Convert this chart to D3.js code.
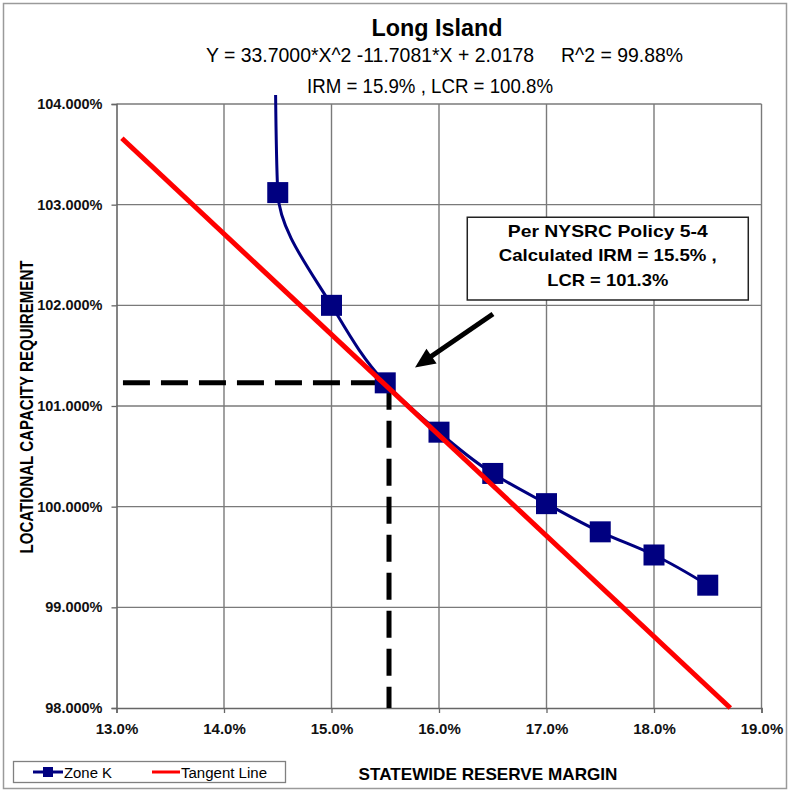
<!DOCTYPE html>
<html><head><meta charset="utf-8">
<script src="https://cdn.jsdelivr.net/npm/d3@7"></script>
<style>body{margin:0;background:#fff;} svg{display:block;} text{font-family:"Liberation Sans",Arial,Helvetica,sans-serif;white-space:pre;}</style>
</head><body><svg id="chart" width="790" height="791"></svg>
<script>
// ---------- data ----------
const titleText = "Long Island";
const equationText = "Y = 33.7000*X^2 -11.7081*X + 2.0178     R^2 = 99.88%";
const resultText = "IRM = 15.9% , LCR = 100.8%";
const xTicks = [13, 14, 15, 16, 17, 18, 19];
const yTicks = [98, 99, 100, 101, 102, 103, 104];
const zoneKIRM = [14.5, 15.0, 15.5, 16.0, 16.5, 17.0, 17.5, 18.0, 18.5];
const zoneKLCR = [103.12, 102.0, 101.23, 100.74, 100.33, 100.03, 99.75, 99.52, 99.22];
const zoneKLeadIRM = [14.48];
const zoneKLeadLCR = [104.09];
const tangentIRM = [13.05, 18.71];
const tangentLCR = [103.66, 98.0];
const calcIRM = [13.06, 15.535];
const calcLCR = [101.23, 98.0];
const noteLines = ["Per NYSRC Policy 5-4", "Calculated IRM = 15.5% ,", "LCR = 101.3%"];
const noteBoxIRM = [16.263, 18.877];
const noteBoxLCR = [102.875, 102.053];
const arrowIRM = [16.502, 15.777];
const arrowLCR = [101.914, 101.383];
const seriesNames = ["Zone K", "Tangent Line"];
const xAxisTitle = "STATEWIDE RESERVE MARGIN";
const yAxisTitle = "LOCATIONAL CAPACITY REQUIREMENT";

// ---------- setup ----------
const svg = d3.select("#chart");
const x = d3.scaleLinear().domain([13, 19]).range([116.5, 761.5]);
const y = d3.scaleLinear().domain([98, 104]).range([708, 104]);
const navy = "#000080", red = "#ff0000";

// outer border
svg.append("rect").attr("x", 3.5).attr("y", 3.5).attr("width", 783).attr("height", 785)
  .attr("fill", "#fff").attr("stroke", "#9a9a9a").attr("stroke-width", 1.5);

function txt(g, px, py, s, size, weight, anchor, len) {
  const t = g.append("text").attr("x", px).attr("y", py).text(s)
    .attr("font-size", size).attr("font-weight", weight).attr("text-anchor", anchor).attr("fill", "#000");
  if (len) t.attr("textLength", len).attr("lengthAdjust", "spacingAndGlyphs");
  return t;
}

// titles
txt(svg, 437, 36, titleText, 24, "bold", "middle", 131);
txt(svg, 444.5, 62, equationText, 20, "normal", "middle", 477);
txt(svg, 430, 93, resultText, 20, "normal", "middle", 246);

// gridlines
const grid = svg.append("g");
grid.selectAll(".gx").data(xTicks.slice(1)).join("line")
  .attr("x1", d => x(d)).attr("x2", d => x(d)).attr("y1", y(104)).attr("y2", y(98))
  .attr("stroke", "#7a7a7a").attr("stroke-width", 1.4);
grid.selectAll(".gy").data(yTicks.slice(1)).join("line")
  .attr("x1", x(13)).attr("x2", x(19)).attr("y1", d => y(d)).attr("y2", d => y(d))
  .attr("stroke", "#7a7a7a").attr("stroke-width", 1.4);

// axes
const yAxis = svg.append("g").attr("transform", `translate(${x(13)},0)`)
  .call(d3.axisLeft(y).tickValues(yTicks).tickSize(5).tickPadding(9).tickFormat(d => d.toFixed(3) + "%"));
const xAxis = svg.append("g").attr("transform", `translate(0,${y(98)})`)
  .call(d3.axisBottom(x).tickValues(xTicks).tickSize(5).tickPadding(10).tickFormat(d => d.toFixed(1) + "%"));
[yAxis, xAxis].forEach(a => {
  a.select(".domain").attr("stroke", "#666").attr("stroke-width", 1.6);
  a.selectAll(".tick line").attr("stroke", "#666").attr("stroke-width", 1.3);
  a.selectAll("text").attr("font-weight", "bold").attr("fill", "#111")
    .attr("font-family", "'Liberation Sans',Arial,sans-serif");
});
yAxis.selectAll("text").attr("font-size", 14.5);
xAxis.selectAll("text").attr("font-size", 15);

// axis titles
txt(svg, 488, 780, xAxisTitle, 17, "bold", "middle", 259);
txt(svg, 0, 0, yAxisTitle, 17.5, "bold", "middle", 293).attr("transform", "translate(33,407) rotate(-90)");

// dashed guide lines
const guide = d3.line().x(d => x(d[0])).y(d => y(d[1]));
svg.append("path").attr("d", guide([[calcIRM[0], calcLCR[0]], [calcIRM[1], calcLCR[0]]]))
  .attr("stroke", "#000").attr("stroke-width", 5).attr("stroke-dasharray", "27,11").attr("fill", "none");
svg.append("path").attr("d", guide([[calcIRM[1], calcLCR[0]], [calcIRM[1], calcLCR[1]]]))
  .attr("stroke", "#000").attr("stroke-width", 5).attr("stroke-dasharray", "27,11").attr("fill", "none");

// Zone K series
const zoneK = zoneKIRM.map((v, i) => [v, zoneKLCR[i]]);
const zoneKPath = zoneKLeadIRM.map((v, i) => [v, zoneKLeadLCR[i]]).concat(zoneK);
const smooth = d3.line().x(d => x(d[0])).y(d => y(d[1])).curve(d3.curveMonotoneY);
svg.append("path").attr("d", smooth(zoneKPath)).attr("stroke", navy).attr("stroke-width", 3).attr("fill", "none");
const ms = 21;
svg.selectAll(".mk").data(zoneK).join("rect")
  .attr("x", d => x(d[0]) - ms / 2).attr("y", d => y(d[1]) - ms / 2).attr("width", ms).attr("height", ms)
  .attr("fill", navy);

// Tangent line
const tang = tangentIRM.map((v, i) => [v, tangentLCR[i]]);
svg.append("path").attr("d", guide(tang)).attr("stroke", red).attr("stroke-width", 5).attr("fill", "none");

// arrow
const ax0 = x(arrowIRM[0]), ay0 = y(arrowLCR[0]), ax1 = x(arrowIRM[1]), ay1 = y(arrowLCR[1]);
const ang = Math.atan2(ay1 - ay0, ax1 - ax0);
const hl = 20, hw = 9;
const bx = ax1 - hl * Math.cos(ang), by = ay1 - hl * Math.sin(ang);
svg.append("line").attr("x1", ax0).attr("y1", ay0).attr("x2", bx + 2 * Math.cos(ang)).attr("y2", by + 2 * Math.sin(ang))
  .attr("stroke", "#000").attr("stroke-width", 5);
svg.append("path").attr("d", `M${ax1},${ay1} L${bx - hw * Math.sin(ang)},${by + hw * Math.cos(ang)} L${bx + hw * Math.sin(ang)},${by - hw * Math.cos(ang)} Z`)
  .attr("fill", "#000");

// annotation box
const bx0 = x(noteBoxIRM[0]), bx1 = x(noteBoxIRM[1]), by0 = y(noteBoxLCR[0]), by1 = y(noteBoxLCR[1]);
svg.append("rect").attr("x", bx0).attr("y", by0).attr("width", bx1 - bx0).attr("height", by1 - by0)
  .attr("fill", "#fff").attr("stroke", "#222").attr("stroke-width", 1.5);
const cx = (bx0 + bx1) / 2;
const noteLens = [200, 218, 121];
const noteBase = [237, 261, 286];
noteLines.forEach((s, i) => txt(svg, cx, noteBase[i], s, 17, "bold", "middle", noteLens[i]));

// legend
const lg = svg.append("g");
lg.append("rect").attr("x", 13.5).attr("y", 761.5).attr("width", 272).attr("height", 21)
  .attr("fill", "#fff").attr("stroke", "#808080").attr("stroke-width", 1.3);
lg.append("line").attr("x1", 33).attr("x2", 63).attr("y1", 772).attr("y2", 772).attr("stroke", navy).attr("stroke-width", 3);
lg.append("rect").attr("x", 43).attr("y", 767).attr("width", 10).attr("height", 10).attr("fill", navy);
txt(lg, 64, 777.5, seriesNames[0], 14, "normal", "start", 48);
lg.append("line").attr("x1", 152).attr("x2", 180).attr("y1", 772).attr("y2", 772).attr("stroke", red).attr("stroke-width", 3);
txt(lg, 181, 777.5, seriesNames[1], 14, "normal", "start", 86);
</script></body></html>
